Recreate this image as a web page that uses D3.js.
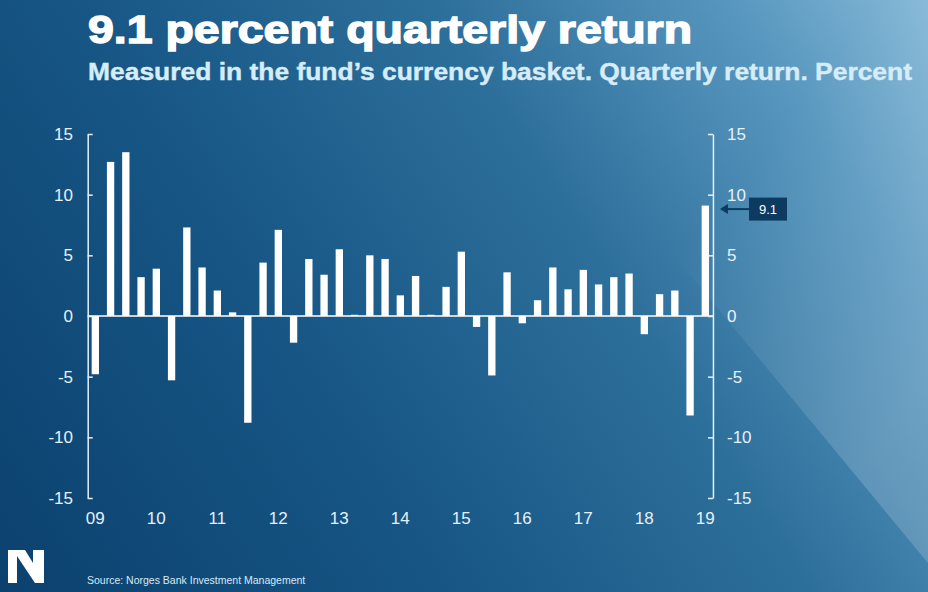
<!DOCTYPE html>
<html>
<head>
<meta charset="utf-8">
<script src="https://cdn.jsdelivr.net/npm/d3@7"></script>
<style>
  html, body { margin: 0; padding: 0; background: #1a5a88; }
  svg { display: block; }
  text { font-family: "Liberation Sans", Arial, sans-serif; }
</style>
</head>
<body>
<svg id="chart" width="928" height="592"></svg>
<script>
// ---- Data ----
const years = ["09","10","11","12","13","14","15","16","17","18","19"];
const quarters = ["Q1","Q2","Q3","Q4"];
const returns = [
  -4.8, 12.7, 13.5, 3.2,   // 2009
   3.9, -5.3,  7.3, 4.0,   // 2010
   2.1,  0.3, -8.8, 4.4,   // 2011
   7.1, -2.2,  4.7, 3.4,   // 2012
   5.5,  0.1,  5.0, 4.7,   // 2013
   1.7,  3.3,  0.1, 2.4,   // 2014
   5.3, -0.9, -4.9, 3.6,   // 2015
  -0.6,  1.3,  4.0, 2.2,   // 2016
   3.8,  2.6,  3.2, 3.5,   // 2017
  -1.5,  1.8,  2.1, -8.2,  // 2018
   9.1                     // 2019
];
const yTicks = [-15, -10, -5, 0, 5, 10, 15];
const titleText = "9.1 percent quarterly return";
const subtitleText = "Measured in the fund\u2019s currency basket. Quarterly return. Percent";
const sourceText = "Source: Norges Bank Investment Management";
const annotationValue = 9.1;

// quarter ids
const periods = returns.map((v, i) => years[Math.floor(i / 4)] + quarters[i % 4]);
const data = returns.map((v, i) => ({ id: periods[i], value: v }));

const W = 928, H = 592;
const svg = d3.select("#chart");
const defs = svg.append("defs");

// background gradient
const bg = defs.append("linearGradient").attr("id", "bg")
  .attr("gradientUnits", "userSpaceOnUse")
  .attr("x1", 0).attr("y1", 592).attr("x2", 928).attr("y2", 0);
bg.append("stop").attr("offset", 0).attr("stop-color", "#0b416e");
bg.append("stop").attr("offset", 0.35).attr("stop-color", "#175685");
bg.append("stop").attr("offset", 0.62).attr("stop-color", "#2d6f9b");
bg.append("stop").attr("offset", 0.85).attr("stop-color", "#5897bf");
bg.append("stop").attr("offset", 1).attr("stop-color", "#86b9d7");
svg.append("rect").attr("width", W).attr("height", H).attr("fill", "url(#bg)");

// light wedge overlay
const wedge = defs.append("linearGradient").attr("id", "wedge")
  .attr("gradientUnits", "userSpaceOnUse")
  .attr("x1", 680).attr("y1", 250).attr("x2", 900).attr("y2", 420);
wedge.append("stop").attr("offset", 0).attr("stop-color", "#ffffff").attr("stop-opacity", 0);
wedge.append("stop").attr("offset", 1).attr("stop-color", "#ffffff").attr("stop-opacity", 0.17);
svg.append("path")
  .attr("d", "M463,0 L928,563 L928,0 Z")
  .attr("fill", "url(#wedge)");

// ---- Scales ----
const x = d3.scaleBand().domain(periods).range([87.7, 712.95]).paddingInner(0.52).paddingOuter(0.26);
const y = d3.scaleLinear().domain([-15, 15]).range([498, 134]);

const axisColor = "#e6f1f8";

// ---- Bars ----
svg.append("g").selectAll("rect").data(data).join("rect")
  .attr("x", d => x(d.id))
  .attr("width", x.bandwidth())
  .attr("y", d => y(Math.max(0, d.value)))
  .attr("height", d => Math.abs(y(d.value) - y(0)))
  .attr("fill", "#ffffff");

// zero line
svg.append("line")
  .attr("x1", x.range()[0]).attr("x2", x.range()[1])
  .attr("y1", y(0)).attr("y2", y(0))
  .attr("stroke", "#ffffff").attr("stroke-width", 1.6);

// ---- Axes ----
const leftAxis = svg.append("g")
  .attr("transform", `translate(${x.range()[0]},0)`)
  .call(d3.axisRight(y).tickValues(yTicks).tickSize(5).tickFormat("").tickSizeOuter(0));
const rightAxis = svg.append("g")
  .attr("transform", `translate(${x.range()[1]},0)`)
  .call(d3.axisLeft(y).tickValues(yTicks).tickSize(5).tickFormat("").tickSizeOuter(0));
[leftAxis, rightAxis].forEach(g => {
  g.select(".domain").attr("stroke", axisColor).attr("stroke-width", 1.5);
  g.selectAll(".tick line").attr("stroke", axisColor).attr("stroke-width", 1.5);
});

// y tick labels
svg.append("g").selectAll("text").data(yTicks).join("text")
  .attr("x", 73).attr("y", d => y(d)).attr("dy", "0.36em")
  .attr("text-anchor", "end")
  .attr("font-size", 17).attr("fill", axisColor)
  .text(d => d);
svg.append("g").selectAll("text").data(yTicks).join("text")
  .attr("x", 727).attr("y", d => y(d)).attr("dy", "0.36em")
  .attr("text-anchor", "start")
  .attr("font-size", 17).attr("fill", axisColor)
  .text(d => d);

// x labels (at Q1 of each year)
svg.append("g").selectAll("text").data(years).join("text")
  .attr("x", d => x(d + "Q1") + x.bandwidth() / 2)
  .attr("y", 524)
  .attr("text-anchor", "middle")
  .attr("font-size", 17).attr("fill", axisColor)
  .text(d => d);

// ---- Annotation ----
const annY = y(annotationValue) + 3.5;
const navy = "#0c3a60";
const ann = svg.append("g");
ann.append("line")
  .attr("x1", x.range()[1] + 12).attr("x2", 749)
  .attr("y1", annY).attr("y2", annY)
  .attr("stroke", navy).attr("stroke-width", 2);
ann.append("path")
  .attr("d", `M${x.range()[1] + 7},${annY} l8,-5 l0,10 Z`)
  .attr("fill", navy);
ann.append("rect")
  .attr("x", 749).attr("y", annY - 11.5).attr("width", 38).attr("height", 23)
  .attr("fill", navy);
ann.append("text")
  .attr("x", 768).attr("y", annY).attr("dy", "0.36em")
  .attr("text-anchor", "middle").attr("font-size", 13).attr("fill", "#ffffff")
  .text(annotationValue);

// ---- Titles ----
svg.append("text")
  .attr("x", 88).attr("y", 43)
  .attr("font-size", 39).attr("font-weight", "bold").attr("fill", "#ffffff")
  .attr("stroke", "#ffffff").attr("stroke-width", 1.4)
  .attr("textLength", 604).attr("lengthAdjust", "spacingAndGlyphs")
  .text(titleText);
svg.append("text")
  .attr("x", 88).attr("y", 80)
  .attr("font-size", 23).attr("font-weight", "bold").attr("fill", "#d6edf9")
  .attr("stroke", "#d6edf9").attr("stroke-width", 0.4)
  .attr("textLength", 824).attr("lengthAdjust", "spacingAndGlyphs")
  .text(subtitleText);

// source
svg.append("text")
  .attr("x", 87).attr("y", 584)
  .attr("font-size", 10.5).attr("fill", "#d8e9f3")
  .text(sourceText);

// logo
svg.append("path")
  .attr("d", "M8,550 L25,550 L33,563 L33,550 L44,550 L44,583 L35,583 L17,556 L17,583 L8,583 Z")
  .attr("fill", "#ffffff");
</script>
</body>
</html>
